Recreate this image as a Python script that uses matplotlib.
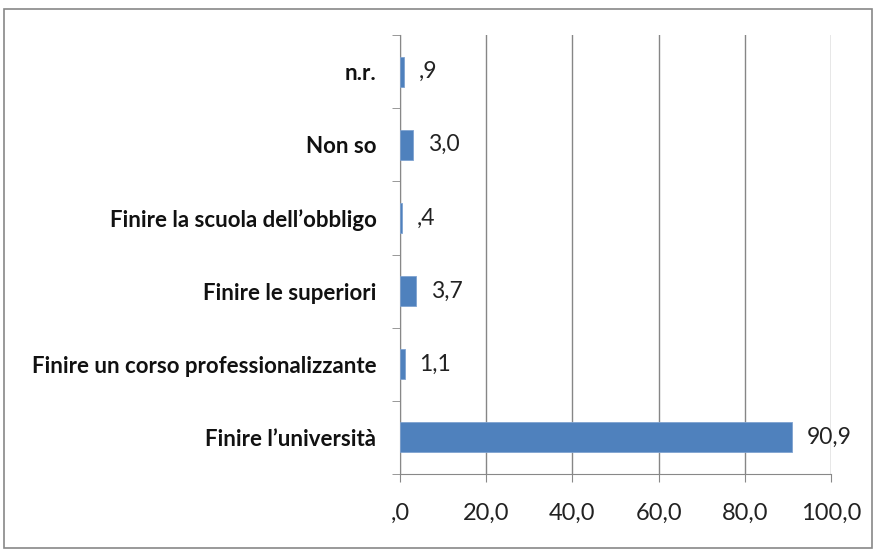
import matplotlib
matplotlib.use("Agg")
import matplotlib.pyplot as plt
from matplotlib.patches import Rectangle

# dati (dal basso verso l'alto)
categorie = ["Finire l'università", "Finire un corso professionalizzante",
             "Finire le superiori", "Finire la scuola dell'obbligo",
             "Non so", "n.r."]
categorie = [c.replace("'", "\u2019") for c in categorie]
valori = [90.9, 1.1, 3.7, 0.4, 3.0, 0.9]
etichette = ["90,9", "1,1", "3,7", ",4", "3,0", ",9"]
tick_x = [0, 20, 40, 60, 80, 100]
tick_lab = [",0", "20,0", "40,0", "60,0", "80,0", "100,0"]

plt.rcParams["font.family"] = ["Lato", "DejaVu Sans"]

fig = plt.figure(figsize=(8.75, 5.51), dpi=100)
ax = fig.add_axes([400 / 875, 1 - 474 / 551, 431 / 875, 439 / 551])

# cornice esterna
fig.patches.append(Rectangle((4 / 875, 3 / 551), 868 / 875, 539 / 551,
                             transform=fig.transFigure, fill=False,
                             edgecolor="#888888", linewidth=1.2))

y = range(len(categorie))
ax.barh(y, valori, height=0.41, color="#4F81BD", edgecolor="#7FA3D1",
        linewidth=0.6, zorder=3)
for yi, v, lab in zip(y, valori, etichette):
    ax.text(v + 3.4, yi, lab, va="center", ha="left", fontsize=16.5,
            color="#222222")

ax.set_xlim(0, 100)
ax.set_ylim(-0.5, len(categorie) - 0.5)
ax.set_xticks(tick_x)
ax.set_xticklabels(tick_lab, fontsize=17, color="#222222")
ax.set_yticks(list(y))
ax.set_yticklabels(categorie, fontsize=16, fontweight="bold", color="#111111")
ax.tick_params(axis="y", length=0, pad=17)
ax.tick_params(axis="x", length=6, color="#888888", pad=15)
# tacche tra le categorie
ax.set_yticks([i - 0.5 for i in range(len(categorie) + 1)], minor=True)
ax.tick_params(axis="y", which="minor", length=6, color="#888888")

ax.grid(axis="x", color="#868686", linewidth=1, zorder=0)
for s in ["top", "right"]:
    ax.spines[s].set_visible(False)
ax.spines["left"].set_color("#888888")
ax.spines["bottom"].set_color("#888888")

fig.savefig("out.png", dpi=100)
